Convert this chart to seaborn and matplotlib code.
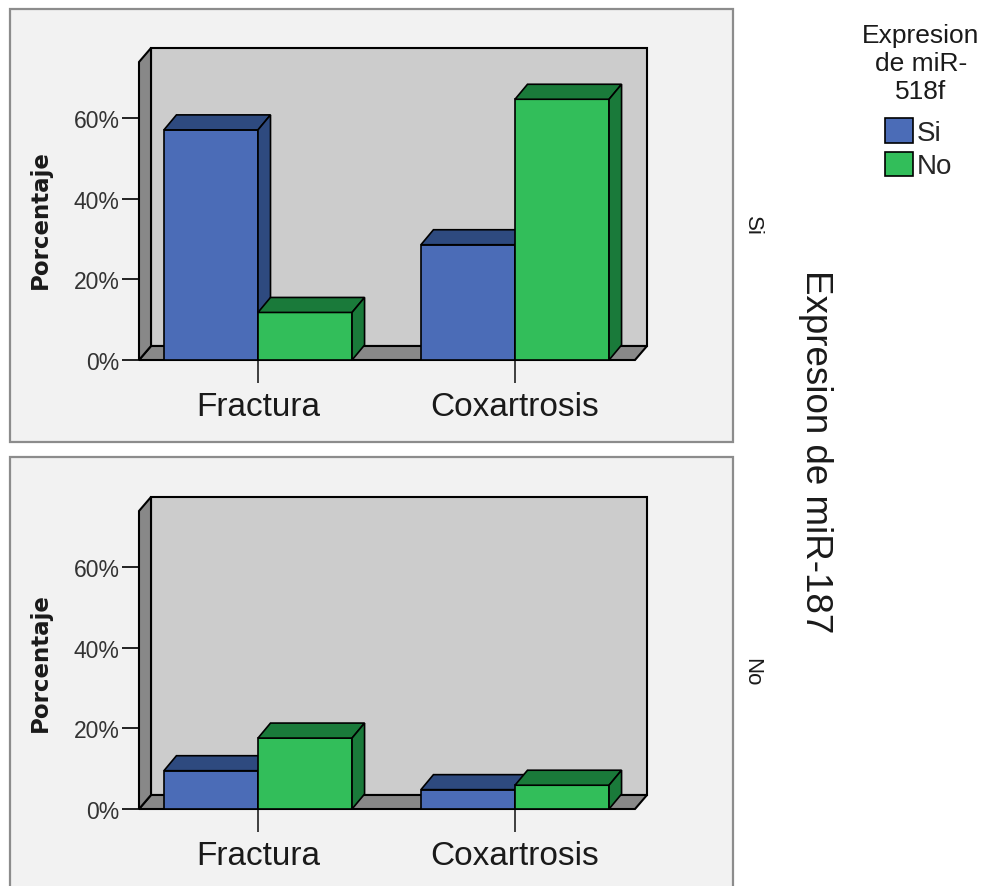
import numpy as np
import pandas as pd
import matplotlib
matplotlib.use("Agg")
import matplotlib.pyplot as plt
from matplotlib.patches import Polygon, Rectangle, Patch
import seaborn as sns

# Grouped percentages: Procedencia x miR-518f, one panel per miR-187 level
procedencia = ["Fractura", "Coxartrosis"]
mir518f_levels = ["Si", "No"]
mir187_levels = ["Si", "No"]

pct_187si_518si = [57.1, 28.6]
pct_187si_518no = [11.8, 64.7]
pct_187no_518si = [9.5, 4.8]
pct_187no_518no = [17.6, 5.9]

ytick_vals = [0, 20, 40, 60]
ytick_labels = ["0%", "20%", "40%", "60%"]

rows = []
for m187, si_vals, no_vals in [("Si", pct_187si_518si, pct_187si_518no),
                               ("No", pct_187no_518si, pct_187no_518no)]:
    for proc, v in zip(procedencia, si_vals):
        rows.append({"mir187": m187, "proc": proc, "mir518f": "Si", "pct": v})
    for proc, v in zip(procedencia, no_vals):
        rows.append({"mir187": m187, "proc": proc, "mir518f": "No", "pct": v})
df = pd.DataFrame(rows)

BLUE, BLUE_D = "#4B6CB7", "#2E4A7F"
GREEN, GREEN_D = "#32BE5A", "#1A7A3A"
WALL, FLOOR = "#CCCCCC", "#888888"
PANEL = "#F2F2F2"

sns.set_theme(style="white")
plt.rcParams["font.family"] = ["Liberation Sans", "DejaVu Sans"]

W, H = 986, 887
fig = plt.figure(figsize=(W / 100, H / 100), dpi=100)
fig.patch.set_facecolor("white")


def fx(x):
    return x / W


def fy(y):
    return 1 - y / H


def rect_px(left, top, right, bottom):
    return [left / W, 1 - bottom / H, (right - left) / W, (bottom - top) / H]


# panel frames
for top, bottom in [(9.5, 443), (458, 900)]:
    fig.add_artist(Rectangle((fx(9.5), fy(bottom)), fx(733) - fx(9.5), fy(top) - fy(bottom),
                             transform=fig.transFigure, facecolor=PANEL,
                             edgecolor="#8C8C8C", linewidth=1.6, zorder=-10))

AX_L, AX_R = 139, 635
DEPTH_X, DEPTH_Y = 12, 14
BAR_DX, BAR_DY = 12.5, 15
xlim = ((AX_L - 258) / 257, (AX_R - 258) / 257)
ylim = (0, 298 / 4.03)

panel_floors = [361, 810]
ylabel_centers = [220, 663]
strip_centers = [226, 672]

for m187, floor_y, ylab_y, strip_y in zip(mir187_levels, panel_floors, ylabel_centers, strip_centers):
    ax = fig.add_axes(rect_px(AX_L, floor_y - 298, AX_R, floor_y))
    ax.patch.set_visible(False)
    sub = df[df["mir187"] == m187]
    sns.barplot(data=sub, x="proc", y="pct", hue="mir518f", order=procedencia,
                hue_order=mir518f_levels, palette=[BLUE, GREEN], saturation=1,
                width=0.732, gap=0, edgecolor="black", linewidth=1.2,
                legend=False, ax=ax, errorbar=None)
    ax.set_xlim(*xlim)
    ax.set_ylim(*ylim)
    for s in ax.spines.values():
        s.set_visible(False)

    # box walls in axes fraction
    dxa, dya = DEPTH_X / (AX_R - AX_L), DEPTH_Y / 298
    kw = dict(transform=ax.transAxes, clip_on=False, edgecolor="black", linewidth=1.5)
    ax.add_patch(Polygon([(dxa, dya), (1 + dxa, dya), (1 + dxa, 1 + dya), (dxa, 1 + dya)],
                         facecolor=WALL, zorder=0.5, **kw))
    ax.add_patch(Polygon([(0, 0), (1, 0), (1 + dxa, dya), (dxa, dya)],
                         facecolor=FLOOR, zorder=0.6, **kw))
    ax.add_patch(Polygon([(0, 0), (dxa, dya), (dxa, 1 + dya), (0, 1)],
                         facecolor=FLOOR, zorder=0.6, **kw))

    # 3D top and side faces for each bar
    ddx = BAR_DX * (xlim[1] - xlim[0]) / (AX_R - AX_L)
    ddy = BAR_DY * (ylim[1] - ylim[0]) / 298
    bars = sorted([p for p in ax.patches if isinstance(p, Rectangle)], key=lambda p: p.get_x())
    for k, p in enumerate(bars):
        x0, w, h = p.get_x(), p.get_width(), p.get_height()
        fc = matplotlib.colors.to_hex(p.get_facecolor())
        dark = BLUE_D if fc.lower() == BLUE.lower() else GREEN_D
        z = 3 + k * 0.1
        p.set_zorder(z)
        ax.add_patch(Polygon([(x0, h), (x0 + w, h), (x0 + w + ddx, h + ddy), (x0 + ddx, h + ddy)],
                             facecolor=dark, edgecolor="black", linewidth=1.2, zorder=z + 0.01,
                             clip_on=False))
        ax.add_patch(Polygon([(x0 + w, 0), (x0 + w + ddx, ddy), (x0 + w + ddx, h + ddy), (x0 + w, h)],
                             facecolor=dark, edgecolor="black", linewidth=1.2, zorder=z + 0.02,
                             clip_on=False))

    ax.set_yticks(ytick_vals)
    ax.set_yticklabels(ytick_labels)
    ax.set_xlabel("")
    ax.set_ylabel("")
    ax.tick_params(axis="y", length=12.5, width=1.4, color="#222222", pad=1.5,
                   labelsize=16.5, labelcolor="#333333", left=True)
    ax.tick_params(axis="x", length=16.5, width=1.2, color="#222222", pad=6,
                   labelsize=24, labelcolor="#1a1a1a", bottom=True)

    fig.text(fx(40), fy(ylab_y), "Porcentaje", rotation=90, ha="center", va="center",
             fontsize=16.5, fontweight="bold", family=["DejaVu Sans"], color="#1a1a1a")
    fig.text(fx(752), fy(strip_y), m187, rotation=-90, ha="center", va="center",
             fontsize=16, color="#1a1a1a")

fig.text(fx(815), fy(452), "Expresion de miR-187", rotation=-90, ha="center", va="center",
         fontsize=26.5, color="#1a1a1a")

# legend: title block and colour keys
fig.text(fx(921), fy(24), "Expresion\nde miR-\n518f", ha="center", va="top",
         multialignment="center", fontsize=19, color="#1a1a1a")
handles = [Patch(facecolor=BLUE, edgecolor="black", linewidth=1.2),
           Patch(facecolor=GREEN, edgecolor="black", linewidth=1.2)]
fig.legend(handles, mir518f_levels, loc="upper left", bbox_to_anchor=(fx(885), fy(119)),
           frameon=False, fontsize=20, handlelength=1.0, handleheight=1.0,
           handletextpad=0.15, labelspacing=0.2, borderpad=0, borderaxespad=0)

fig.savefig("out.png", dpi=100)
